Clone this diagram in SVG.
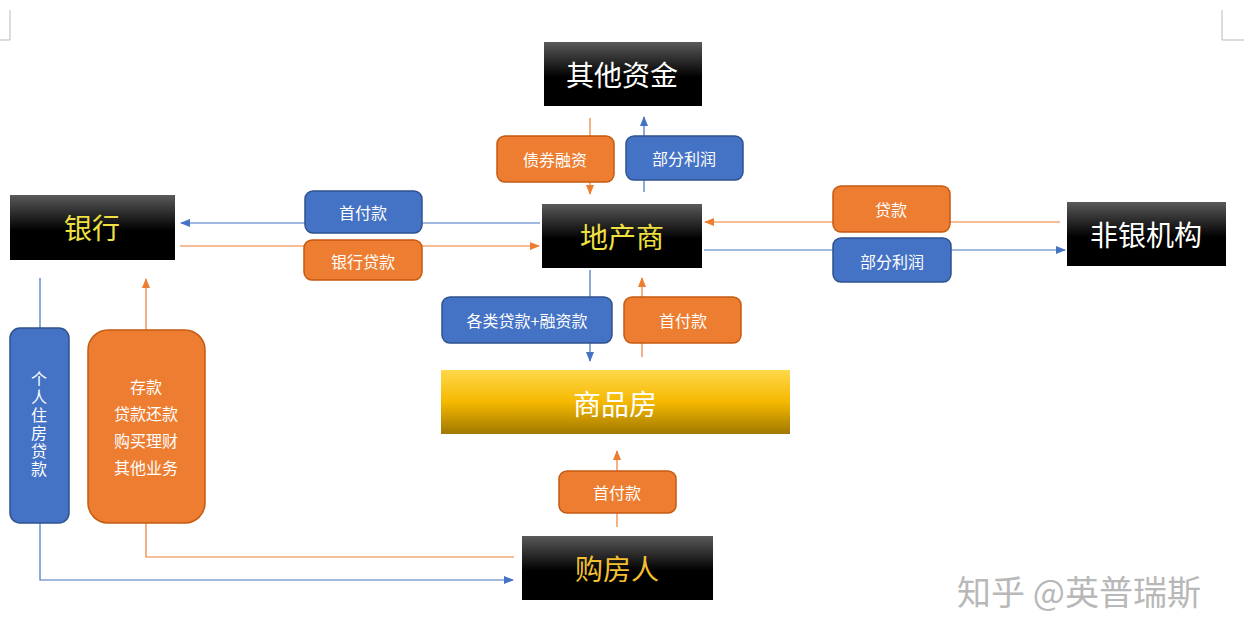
<svg xmlns="http://www.w3.org/2000/svg" width="1244" height="642" viewBox="0 0 1244 642">
<defs>
<linearGradient id="blk" x1="0" y1="0" x2="0" y2="1"><stop offset="0" stop-color="#5a5a5a"/><stop offset="0.55" stop-color="#000"/><stop offset="1" stop-color="#000"/></linearGradient>
<linearGradient id="gold" x1="0" y1="0" x2="0" y2="1"><stop offset="0" stop-color="#ffd84a"/><stop offset="0.5" stop-color="#f5b800"/><stop offset="1" stop-color="#a07800"/></linearGradient>
<marker id="ab" markerWidth="10" markerHeight="8" refX="9" refY="4" orient="auto" markerUnits="userSpaceOnUse"><path d="M0,0L10,4L0,8z" fill="#4472c4"/></marker>
<marker id="ao" markerWidth="10" markerHeight="8" refX="9" refY="4" orient="auto" markerUnits="userSpaceOnUse"><path d="M0,0L10,4L0,8z" fill="#ed7d31"/></marker>
</defs>
<style>
text{font-family:"Noto Sans CJK SC","Liberation Sans",sans-serif;text-anchor:middle;dominant-baseline:central}
.b{fill:url(#blk)}
.big{font-size:28px}
.lb{font-size:16px;fill:#fff}
.o{fill:#ed7d31;stroke:#c55a11;stroke-width:1.5}
.u{fill:#4472c4;stroke:#2f528f;stroke-width:1.5}
.lo{stroke:#ed7d31;stroke-width:1.2;fill:none}
.lu{stroke:#4472c4;stroke-width:1.2;fill:none}
.vt{writing-mode:vertical-rl;text-anchor:middle;letter-spacing:2px}
</style>
<rect width="1244" height="642" fill="#fff"/>
<path d="M0,40H10V10M1222,10V40H1244" stroke="#bbb" fill="none"/>
<g id="connectors">
<path class="lo" d="M590,118V194" marker-end="url(#ao)"/>
<path class="lu" d="M644,192V117" marker-end="url(#ab)"/>
<path class="lu" d="M540,223H181" marker-end="url(#ab)"/>
<path class="lo" d="M180,246H539" marker-end="url(#ao)"/>
<path class="lo" d="M1060,222H705" marker-end="url(#ao)"/>
<path class="lu" d="M704,250H1065" marker-end="url(#ab)"/>
<path class="lu" d="M590,270V361" marker-end="url(#ab)"/>
<path class="lo" d="M642,357V278" marker-end="url(#ao)"/>
<path class="lo" d="M617,527V451" marker-end="url(#ao)"/>
<path class="lo" d="M514,557H146V279" marker-end="url(#ao)"/>
<path class="lu" d="M40,278V580H513" marker-end="url(#ab)"/>
</g>
<g id="n-other"><rect class="b" x="544" y="42" width="158" height="64"/><text class="big" x="622" y="74" fill="#fff">其他资金</text></g>
<g id="n-bank"><rect class="b" x="10" y="195" width="165" height="65"/><text class="big" x="92" y="227" fill="#f0e040">银行</text></g>
<g id="n-dev"><rect class="b" x="542" y="204" width="160" height="64"/><text class="big" x="622" y="236" fill="#f0e040">地产商</text></g>
<g id="n-nonbank"><rect class="b" x="1067" y="202" width="159" height="64"/><text class="big" x="1146" y="234" fill="#fff">非银机构</text></g>
<g id="n-house"><rect x="441" y="370" width="349" height="64" fill="url(#gold)"/><text class="big" x="615" y="403" fill="#fff">商品房</text></g>
<g id="n-buyer"><rect class="b" x="522" y="536" width="191" height="64"/><text class="big" x="617" y="568" fill="#f5c030">购房人</text></g>
<g id="n-mortgage"><rect class="u" x="10" y="328" width="59" height="195" rx="10"/><text class="lb vt" x="39" y="425">个人住房贷款</text></g>
<g id="n-deposit"><rect class="o" x="88" y="330" width="117" height="193" rx="20"/><text class="lb"><tspan x="146" y="386">存款</tspan><tspan x="146" y="413">贷款还款</tspan><tspan x="146" y="440">购买理财</tspan><tspan x="146" y="467">其他业务</tspan></text></g>
<g id="l1"><rect class="o" x="497" y="136" width="117" height="46" rx="8"/><text class="lb" x="555" y="159">债券融资</text></g>
<g id="l2"><rect class="u" x="626" y="136" width="117" height="44" rx="8"/><text class="lb" x="684" y="158">部分利润</text></g>
<g id="l3"><rect class="u" x="305" y="191" width="117" height="42" rx="8"/><text class="lb" x="363" y="212">首付款</text></g>
<g id="l4"><rect class="o" x="304" y="240" width="118" height="40" rx="8"/><text class="lb" x="363" y="261">银行贷款</text></g>
<g id="l5"><rect class="o" x="833" y="186" width="117" height="46" rx="8"/><text class="lb" x="891" y="209">贷款</text></g>
<g id="l6"><rect class="u" x="833" y="238" width="118" height="44" rx="8"/><text class="lb" x="892" y="261">部分利润</text></g>
<g id="l7"><rect class="u" x="442" y="297" width="170" height="46" rx="8"/><text class="lb" x="527" y="320">各类贷款+融资款</text></g>
<g id="l8"><rect class="o" x="624" y="297" width="117" height="46" rx="8"/><text class="lb" x="683" y="320">首付款</text></g>
<g id="l9"><rect class="o" x="559" y="471" width="117" height="42" rx="8"/><text class="lb" x="617" y="492">首付款</text></g>
<text x="1079" y="590" font-size="34" fill="#b8b8b8">知乎 @英普瑞斯</text>
</svg>
